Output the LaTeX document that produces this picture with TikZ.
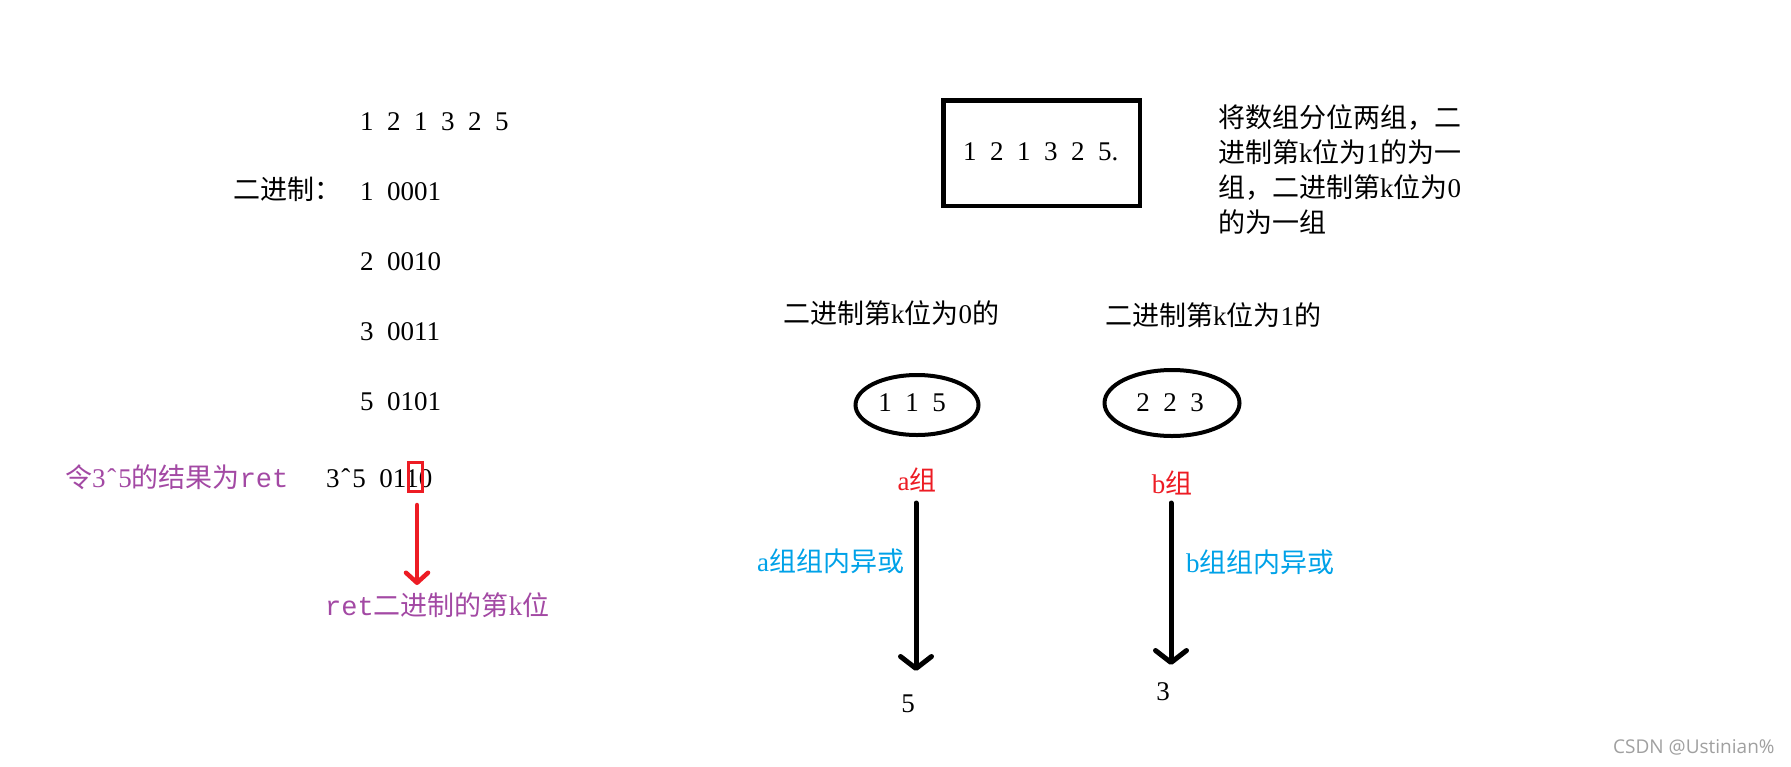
\documentclass[tikz,border=0pt]{standalone}
\usepackage{fontspec}
\setmainfont[WordSpace=2]{Liberation Serif}
\newfontfamily\cjk{Noto Sans CJK SC}
\newfontfamily\hmono{Liberation Mono}
\newfontfamily\wmfont{Open Sans}
\usetikzlibrary{arrows.meta,shapes.geometric}
\definecolor{pred}{HTML}{ED1C24}
\definecolor{ppurple}{HTML}{A349A4}
\definecolor{pblue}{HTML}{00A2E8}
\definecolor{wmgray}{HTML}{A0A0A0}
\newcommand{\hcirc}{\kern1.8pt\char"02C6\kern1.8pt}
\tikzset{
  txt/.style={inner sep=0pt, anchor=west, font=\fontsize{27}{35}\selectfont},
  ctxt/.style={txt, anchor=center},
  bigarrow/.style={line width=5pt, line cap=round, -{Straight Barb[length=12pt, width=31pt, round]}},
  redarrow/.style={pred, line width=4.5pt, line cap=round, -{Straight Barb[length=10pt, width=22pt, round]}},
  grp/.style={ellipse, draw, line width=4pt, inner sep=0pt},
}
\begin{document}
\begin{tikzpicture}[x=1pt,y=-1pt]
\useasboundingbox[fill=white] (0,0) rectangle (1791,766);

% left column
\node[txt] (row0) at (360,122) {1 2 1 3 2 5};
\node[txt] (binlab) at (233,189) {\cjk 二进制：};
\node[txt] (row1) at (360,192) {1 0001};
\node[txt] (row2) at (360,262) {2 0010};
\node[txt] (row3) at (360,332) {3 0011};
\node[txt] (row4) at (360,402) {5 0101};
\node[txt] (row5) at (326,478) {3\hcirc5 0110};
\node[txt, ppurple] (letlab) at (65,477) {{\cjk 令}3\hcirc5{\cjk 的结果为}{\hmono ret}};
\node[draw=pred, line width=3pt, minimum width=14pt, minimum height=29pt, inner sep=0pt] (hl) at (415.5,477) {};
\node[txt, ppurple] (retlab) at (325,605) {{\hmono ret}{\cjk 二进制的第}k{\cjk 位}};
\coordinate (r2) at (417,585);
\draw[redarrow] ([xshift=1.5pt,yshift=-12pt]hl.south) -- (r2);

% right: array box and description
\node[draw, line width=4.5pt, minimum width=196.5pt, minimum height=105.5pt, inner sep=0pt] (arr) at (1041.5,153) {};
\node[txt] (arrtxt) at (963,152) {1 2 1 3 2 5.};
\node[txt, align=left] (desc) at (1218,170) {{\cjk 将数组分位两组，二}\\{\cjk 进制第}k{\cjk 位为}1{\cjk 的为一}\\{\cjk 组，二进制第}k{\cjk 位为}0\\{\cjk 的为一组}};

% group headings
\node[txt] (g0lab) at (783,313) {{\cjk 二进制第}k{\cjk 位为}0{\cjk 的}};
\node[txt] (g1lab) at (1105,315) {{\cjk 二进制第}k{\cjk 位为}1{\cjk 的}};

% groups
\node[grp, minimum width=123pt, minimum height=60pt] (ea) at (917,405) {};
\node[ctxt] (eatxt) at (912,403) {1 1 5};
\node[grp, minimum width=135pt, minimum height=66pt] (eb) at (1172,403) {};
\node[ctxt] (ebtxt) at (1170,403) {2 2 3};

\node[ctxt, pred] (alab) at (917,480) {a{\cjk 组}};
\node[ctxt, pred] (blab) at (1172,483) {b{\cjk 组}};

\coordinate (a1) at (916,503);
\coordinate (a2) at (916,671);
\coordinate (b1) at (1171,503);
\coordinate (b2) at (1171,665);
\draw[bigarrow] (a1) -- (a2);
\draw[bigarrow] (b1) -- (b2);

\node[txt, pblue] (axor) at (757,561) {a{\cjk 组组内异或}};
\node[txt, pblue] (bxor) at (1186,562) {b{\cjk 组组内异或}};

\node[ctxt] (ra) at (908,704) {5};
\node[ctxt] (rb) at (1163,692) {3};

% watermark
\node[inner sep=0pt, anchor=west, text=wmgray, font=\wmfont\fontsize{19}{22}\selectfont] (wm) at (1613,747) {CSDN @Ustinian\%};
\end{tikzpicture}
\end{document}
